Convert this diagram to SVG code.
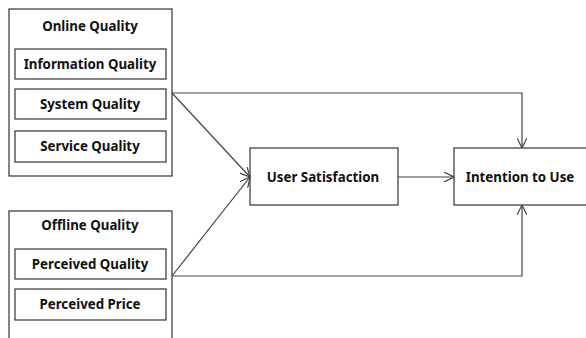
<svg xmlns="http://www.w3.org/2000/svg" width="586" height="338" viewBox="0 0 586 338">
  <style>
    .box { fill: #ffffff; stroke: #333333; stroke-width: 1.2; }
    .lbl { font-family: "Noto Sans", "Liberation Sans", sans-serif; font-weight: bold; font-size: 13.3px; fill: #111111; text-anchor: middle; dominant-baseline: central; }
    .conn { fill: none; stroke: #444444; stroke-width: 1.2; }
  </style>
  <defs>
    <marker id="arrow" viewBox="0 0 10 10" refX="10" refY="5" markerWidth="10" markerHeight="10" markerUnits="userSpaceOnUse" orient="auto">
      <path d="M0,0 L10,5 L0,10" fill="none" stroke="#444444" stroke-width="1.2"/>
    </marker>
  </defs>
  <rect width="586" height="338" fill="#ffffff"/>

  <g id="online-quality">
    <rect class="box" x="9" y="9" width="163" height="167"/>
    <text class="lbl" x="90" y="26">Online Quality</text>
    <g id="information-quality">
      <rect class="box" x="15" y="49" width="151" height="30"/>
      <text class="lbl" x="90" y="64">Information Quality</text>
    </g>
    <g id="system-quality">
      <rect class="box" x="15" y="89" width="151" height="30"/>
      <text class="lbl" x="90" y="104">System Quality</text>
    </g>
    <g id="service-quality">
      <rect class="box" x="15" y="131" width="151" height="31"/>
      <text class="lbl" x="90" y="146">Service Quality</text>
    </g>
  </g>

  <g id="offline-quality">
    <rect class="box" x="9" y="211" width="163" height="140"/>
    <text class="lbl" x="90" y="225">Offline Quality</text>
    <g id="perceived-quality">
      <rect class="box" x="15" y="249" width="151" height="30"/>
      <text class="lbl" x="90" y="264">Perceived Quality</text>
    </g>
    <g id="perceived-price">
      <rect class="box" x="15" y="289" width="151" height="31"/>
      <text class="lbl" x="90" y="304">Perceived Price</text>
    </g>
  </g>

  <g id="user-satisfaction">
    <rect class="box" x="250" y="148" width="148" height="57"/>
    <text class="lbl" x="323" y="177">User Satisfaction</text>
  </g>

  <g id="intention-to-use">
    <rect class="box" x="454" y="148" width="140" height="57"/>
    <text class="lbl" x="520" y="177">Intention to Use</text>
  </g>

  <g id="connectors">
    <path class="conn" d="M172,93 L522,93 L522,148" marker-end="url(#arrow)"/>
    <path class="conn" d="M172,93 L250,177" marker-end="url(#arrow)"/>
    <path class="conn" d="M172,276 L250,177" marker-end="url(#arrow)"/>
    <path class="conn" d="M172,276 L522,276 L522,205" marker-end="url(#arrow)"/>
    <path class="conn" d="M398,177 L454,177" marker-end="url(#arrow)"/>
  </g>
</svg>
